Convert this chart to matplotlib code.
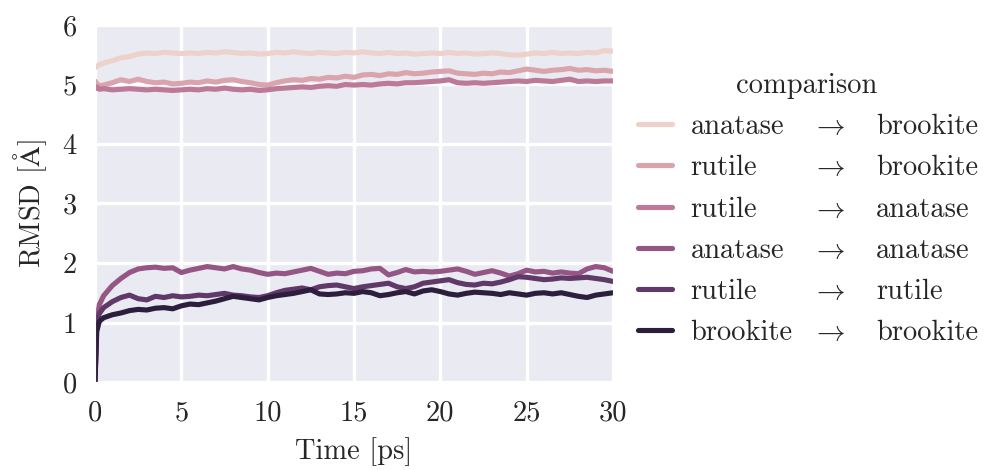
import matplotlib
matplotlib.use("Agg")
import matplotlib.pyplot as plt
import seaborn as sns

time_ps = [0, 0.1, 0.25, 0.5, 1.0, 1.5, 2.0, 2.5, 3.0, 3.5, 4.0, 4.5, 5.0, 5.5, 6.0, 6.5,
           7.0, 7.5, 8.0, 8.5, 9.0, 9.5, 10.0, 10.5, 11.0, 11.5, 12.0, 12.5, 13.0, 13.5,
           14.0, 14.5, 15.0, 15.5, 16.0, 16.5, 17.0, 17.5, 18.0, 18.5, 19.0, 19.5, 20.0,
           20.5, 21.0, 21.5, 22.0, 22.5, 23.0, 23.5, 24.0, 24.5, 25.0, 25.5, 26.0, 26.5,
           27.0, 27.5, 28.0, 28.5, 29.0, 29.5, 30.0]

anatase_brookite = [5.28, 5.31, 5.33, 5.36, 5.40, 5.45, 5.47, 5.51, 5.53, 5.52, 5.54, 5.53, 5.52,
                    5.53, 5.52, 5.54, 5.53, 5.55, 5.54, 5.52, 5.53, 5.51, 5.52, 5.54, 5.53, 5.55,
                    5.53, 5.52, 5.54, 5.53, 5.52, 5.54, 5.53, 5.55, 5.53, 5.52, 5.54, 5.52, 5.53,
                    5.51, 5.52, 5.53, 5.52, 5.54, 5.52, 5.53, 5.51, 5.52, 5.53, 5.52, 5.50, 5.49,
                    5.51, 5.53, 5.52, 5.54, 5.52, 5.53, 5.52, 5.54, 5.53, 5.57, 5.56]
rutile_brookite = [5.06, 5.02, 4.98, 4.99, 5.03, 5.08, 5.05, 5.09, 5.05, 5.03, 5.04, 5.01, 5.02,
                   5.04, 5.03, 5.06, 5.04, 5.07, 5.08, 5.05, 5.03, 5.00, 4.99, 5.03, 5.06, 5.08,
                   5.07, 5.10, 5.09, 5.12, 5.11, 5.14, 5.12, 5.16, 5.17, 5.15, 5.18, 5.17, 5.20,
                   5.18, 5.19, 5.21, 5.22, 5.23, 5.19, 5.18, 5.17, 5.19, 5.18, 5.21, 5.20, 5.23,
                   5.26, 5.24, 5.22, 5.24, 5.25, 5.27, 5.24, 5.25, 5.23, 5.24, 5.22]
rutile_anatase = [4.93, 4.96, 4.92, 4.93, 4.91, 4.92, 4.93, 4.92, 4.91, 4.92, 4.91, 4.90, 4.91,
                  4.92, 4.91, 4.93, 4.92, 4.94, 4.92, 4.91, 4.92, 4.90, 4.91, 4.93, 4.94, 4.95,
                  4.96, 4.95, 4.97, 4.98, 4.97, 5.00, 4.99, 5.00, 4.99, 5.01, 5.02, 5.01, 5.03,
                  5.03, 5.04, 5.05, 5.06, 5.08, 5.03, 5.02, 5.03, 5.02, 5.03, 5.04, 5.05, 5.06,
                  5.05, 5.07, 5.06, 5.05, 5.07, 5.09, 5.05, 5.06, 5.05, 5.06, 5.06]
anatase_anatase = [0.0, 1.00, 1.30, 1.45, 1.62, 1.74, 1.84, 1.90, 1.92, 1.93, 1.91, 1.92, 1.84,
                   1.88, 1.91, 1.94, 1.92, 1.90, 1.94, 1.90, 1.88, 1.84, 1.81, 1.83, 1.82, 1.85,
                   1.88, 1.91, 1.86, 1.81, 1.83, 1.82, 1.86, 1.87, 1.90, 1.91, 1.80, 1.84, 1.89,
                   1.85, 1.86, 1.85, 1.86, 1.88, 1.90, 1.86, 1.81, 1.84, 1.87, 1.83, 1.78, 1.82,
                   1.88, 1.85, 1.86, 1.83, 1.85, 1.83, 1.82, 1.90, 1.94, 1.92, 1.86]
rutile_rutile = [0.0, 1.02, 1.15, 1.25, 1.35, 1.42, 1.46, 1.40, 1.38, 1.44, 1.42, 1.45, 1.43,
                 1.44, 1.46, 1.45, 1.47, 1.49, 1.46, 1.45, 1.43, 1.42, 1.45, 1.50, 1.54, 1.56,
                 1.58, 1.55, 1.60, 1.62, 1.63, 1.60, 1.57, 1.60, 1.62, 1.64, 1.66, 1.60, 1.57,
                 1.60, 1.66, 1.68, 1.70, 1.72, 1.67, 1.64, 1.63, 1.66, 1.65, 1.68, 1.72, 1.77,
                 1.76, 1.74, 1.72, 1.73, 1.75, 1.74, 1.75, 1.76, 1.74, 1.72, 1.69]
brookite_brookite = [0.0, 0.85, 1.02, 1.08, 1.13, 1.16, 1.20, 1.22, 1.21, 1.24, 1.25, 1.23, 1.28,
                     1.31, 1.30, 1.33, 1.36, 1.40, 1.44, 1.42, 1.40, 1.38, 1.42, 1.45, 1.47, 1.49,
                     1.52, 1.55, 1.48, 1.47, 1.48, 1.50, 1.49, 1.52, 1.50, 1.45, 1.47, 1.50, 1.52,
                     1.48, 1.53, 1.55, 1.52, 1.48, 1.46, 1.49, 1.51, 1.50, 1.49, 1.47, 1.50, 1.48,
                     1.46, 1.49, 1.50, 1.48, 1.50, 1.47, 1.44, 1.42, 1.46, 1.48, 1.50]

sources = ["anatase", "rutile", "rutile", "anatase", "rutile", "brookite"]
targets = ["brookite", "brookite", "anatase", "anatase", "rutile", "brookite"]
series = [anatase_brookite, rutile_brookite, rutile_anatase,
          anatase_anatase, rutile_rutile, brookite_brookite]

x_ticks = [0, 5, 10, 15, 20, 25, 30]
y_ticks = [0, 1, 2, 3, 4, 5, 6]

sns.set_style("darkgrid")
FS = 20.5
plt.rcParams.update({
    "font.family": "serif",
    "font.serif": ["cmr10", "DejaVu Serif"],
    "mathtext.fontset": "cm",
    "axes.formatter.use_mathtext": True,
    "font.size": FS,
    "axes.unicode_minus": False,
    "grid.linewidth": 2.4,
})

palette = sns.cubehelix_palette(len(series))

fig = plt.figure(figsize=(9.84, 4.70), dpi=100)
ax = fig.add_axes([95 / 984, 88 / 470, 518 / 984, 357 / 470])

handles = []
for vals, col, src in zip(series, palette, sources):
    h, = ax.plot(time_ps, vals, color=col, lw=3.7, label=src, solid_capstyle="round")
    handles.append(h)

ax.set_xlim(0, 30)
ax.set_ylim(0, 6)
ax.set_xticks(x_ticks)
ax.set_yticks(y_ticks)
ax.set_xticklabels([str(v) for v in x_ticks], fontsize=FS)
ax.set_yticklabels([str(v) for v in y_ticks], fontsize=FS)
ax.tick_params(axis="x", length=0, pad=13)
ax.tick_params(axis="y", length=0, pad=13)
ax.set_xlabel("Time [ps]", fontsize=FS, labelpad=8)
ax.set_ylabel(r"RMSD [$\mathrm{\AA}$]", fontsize=FS, labelpad=10)

leg = fig.legend(handles=handles, labels=sources, loc="upper left",
                 bbox_to_anchor=(638 / 984, 1 - 114 / 470), frameon=False,
                 fontsize=FS, handlelength=1.2, handletextpad=0.65,
                 labelspacing=0.52, borderaxespad=0, borderpad=0)
for lh in leg.get_lines():
    lh.set_linewidth(3.7)

fig.text(807 / 984, 1 - 93 / 470, "comparison", fontsize=FS, ha="center",
         va="baseline")

fig.canvas.draw()
inv = fig.transFigure.inverted()
for txt, tgt in zip(leg.get_texts(), targets):
    bb = txt.get_window_extent()
    y0 = inv.transform((0, bb.y0))[1]
    fig.text(812 / 984, y0, r"$\rightarrow$", fontsize=FS, va="bottom", ha="left")
    fig.text(876 / 984, y0, tgt, fontsize=FS, va="bottom", ha="left")

fig.savefig("out.png", dpi=100)
